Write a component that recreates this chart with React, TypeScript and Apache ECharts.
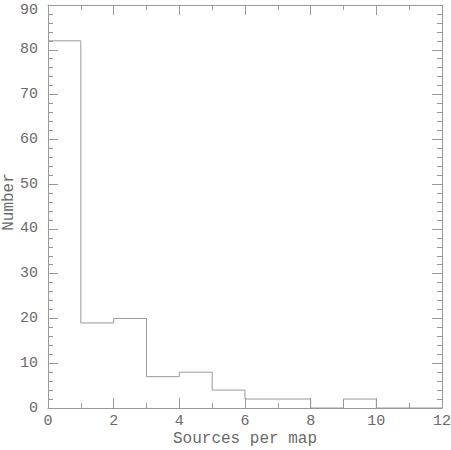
import React, { useEffect, useRef } from "react";
import * as echarts from "echarts";

const binStarts = [0, 1, 2, 3, 4, 5, 6, 7, 8, 9, 10, 11, 12];
const counts = [82, 19, 20, 7, 8, 4, 2, 2, 0, 2, 0, 0, 0];
const xTitle = "Sources per map";
const yTitle = "Number";

const LINE = "#999999";
const TEXT = "#6a6a6a";
const FONT = "Liberation Mono";

export default function App() {
  const ref = useRef<HTMLDivElement>(null);
  useEffect(() => {
    const chart = echarts.init(ref.current!, null, { renderer: "svg" });
    const tickCommon = {
      axisLine: { show: true, onZero: false, lineStyle: { color: LINE, width: 1 } },
      splitLine: { show: false },
    };
    const labelFont = { color: TEXT, fontFamily: FONT, fontSize: 15 };
    chart.setOption({
      animation: false,
      backgroundColor: "#fff",
      grid: { left: 48, right: 9, top: 5, bottom: 42, containLabel: false, outerBoundsMode: "none" },
      xAxis: [
        {
          type: "value",
          min: 0,
          max: 12,
          interval: 2,
          position: "bottom",
          name: xTitle,
          nameLocation: "middle",
          nameGap: 24,
          nameMoveOverlap: false,
          nameTextStyle: { color: TEXT, fontFamily: FONT, fontSize: 16, lineHeight: 14 },
          axisLabel: { ...labelFont, margin: 7, lineHeight: 13 },
          axisTick: { show: true, inside: true, length: 10, lineStyle: { color: LINE } },
          minorTick: { show: true, splitNumber: 2, length: 5, lineStyle: { color: LINE } },
          minorSplitLine: { show: false },
          ...tickCommon,
        },
        {
          type: "value",
          min: 0,
          max: 12,
          interval: 2,
          position: "top",
          axisLabel: { show: false },
          axisTick: { show: true, inside: true, length: 10, lineStyle: { color: LINE } },
          minorTick: { show: true, splitNumber: 2, length: 5, lineStyle: { color: LINE } },
          ...tickCommon,
        },
      ],
      yAxis: [
        {
          type: "value",
          min: 0,
          max: 90,
          interval: 10,
          position: "left",
          name: yTitle,
          nameLocation: "middle",
          nameGap: 33,
          nameMoveOverlap: false,
          nameRotate: 90,
          nameTextStyle: {
            color: TEXT,
            fontFamily: FONT,
            fontSize: 16,
            lineHeight: 12,
            padding: [0, 0, 0, 9],
          },
          axisLabel: {
            ...labelFont,
            margin: 10,
            lineHeight: 10,
            formatter: (v: number) => (v === 90 ? "{t|" + v + "}" : "{n|" + v + "}"),
            rich: {
              t: { ...labelFont, lineHeight: 10, padding: [10, 0, 0, 0] },
              n: { ...labelFont, lineHeight: 10 },
            },
          },
          axisTick: { show: true, inside: true, length: 10, lineStyle: { color: LINE } },
          minorTick: { show: true, splitNumber: 5, length: 5, lineStyle: { color: LINE } },
          ...tickCommon,
        },
        {
          type: "value",
          min: 0,
          max: 90,
          interval: 10,
          position: "right",
          axisLabel: { show: false },
          axisTick: { show: true, inside: true, length: 10, lineStyle: { color: LINE } },
          minorTick: { show: true, splitNumber: 5, length: 5, lineStyle: { color: LINE } },
          ...tickCommon,
        },
      ],
      series: [
        {
          type: "line",
          step: "end",
          xAxisIndex: 0,
          yAxisIndex: 0,
          data: binStarts.map((x, i) => [x, counts[i]]),
          symbol: "none",
          lineStyle: { color: LINE, width: 1 },
        },
      ],
    });
    return () => chart.dispose();
  }, []);
  return (
    <div
      ref={ref}
      style={{ position: "fixed", left: 0, top: 0, width: 451, height: 450 }}
    />
  );
}
